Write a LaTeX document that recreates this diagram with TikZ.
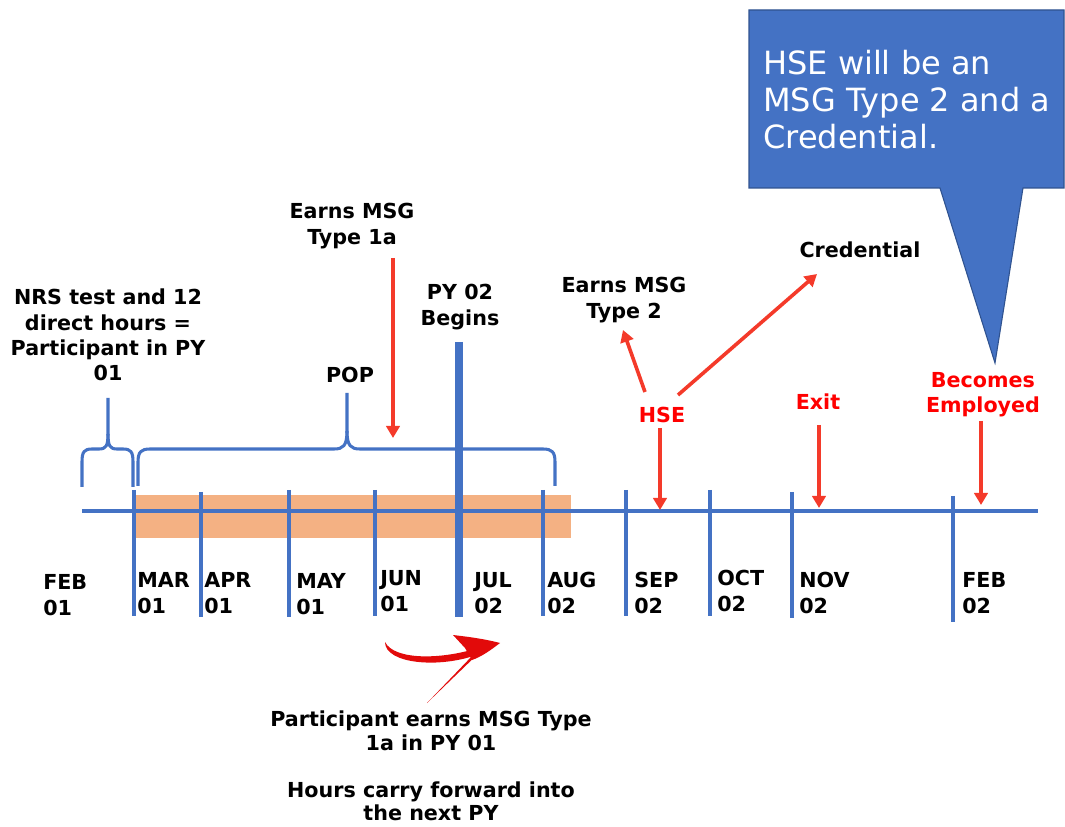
\documentclass[tikz,border=0pt]{standalone}
\usepackage{fontspec}
\setmainfont{DejaVu Sans}
\usetikzlibrary{arrows.meta}
\definecolor{tblue}{HTML}{4472C4}
\definecolor{cborder}{HTML}{2F528F}
\definecolor{orng}{HTML}{F4B183}
\definecolor{rarrow}{HTML}{F43A2A}
\definecolor{rtext}{HTML}{FF0000}
\definecolor{curvered}{HTML}{E20A0A}
\tikzset{
  lbl/.style={font=\bfseries\fontsize{15.5}{19}\selectfont, align=center, inner sep=0pt, text=black},
  rlbl/.style={lbl, text=rtext},
  mlbl/.style={font=\bfseries\fontsize{15.5}{19}\selectfont, align=left, inner sep=0pt, anchor=west},
  tl/.style={draw=tblue, line width=2.3pt},
  tick/.style={draw=tblue, line width=2.3pt},
  brace/.style={draw=tblue, line width=2.3pt, line join=round},
  rarr/.style={draw=rarrow, line width=2.7pt, -{Triangle[width=10pt,length=9pt]}}
}
\begin{document}
\begin{tikzpicture}[x=0.75pt,y=-0.75pt]
\useasboundingbox (0,0) rectangle (1065,827);
% orange band
\fill[orng] (135,495) rectangle (571,538);
% timeline
\coordinate (tlS) at (82,511);
\coordinate (tlE) at (1038,511);
\draw[tl] (tlS) -- (tlE);
% month ticks
\foreach \n/\x/\a/\b in {mar/134/490/616, apr/201/492/617, may/289/490/617, jun/375/490/616, aug/543/490/616, sep/626/490/616, oct/710/490/616, nov/792/492/618, feb/953/496/622}{
  \coordinate (\n T) at (\x,\a);
  \coordinate (\n B) at (\x,\b);
  \draw[tick] (\n T) -- (\n B);
}
% PY 02 line
\coordinate (pyT) at (459,342);
\coordinate (pyB) at (459,617);
\draw[draw=tblue, line width=5.3pt] (pyT) -- (pyB);
% month labels
\node[mlbl] (m1) at (43,595) {FEB\\01};
\node[mlbl] (m2) at (137,593) {MAR\\01};
\node[mlbl] (m3) at (204,593) {APR\\01};
\node[mlbl] (m4) at (296,594) {MAY\\01};
\node[mlbl] (m5) at (380,591) {JUN\\01};
\node[mlbl] (m6) at (474,593) {JUL\\02};
\node[mlbl] (m7) at (547,593) {AUG\\02};
\node[mlbl] (m8) at (634,593) {SEP\\02};
\node[mlbl] (m9) at (717,591) {OCT\\02};
\node[mlbl] (m10) at (799,593) {NOV\\02};
\node[mlbl] (m11) at (962,593) {FEB\\02};
% braces
\draw[brace] (82,487) -- (82,462) .. controls (82,452) and (84,449) .. (92,449) -- (99,449)
  .. controls (106,449) and (108,446) .. (108,434) -- (108,398);
\draw[brace] (108,434) .. controls (108,446) and (110,449) .. (117,449) -- (123,449)
  .. controls (131,449) and (133,452) .. (133,462) -- (133,487);
\draw[brace] (138,486) -- (138,462) .. controls (138,452) and (141,449) .. (150,449) -- (334,449)
  .. controls (343,449) and (347,446) .. (347,431) -- (347,393);
\draw[brace] (347,431) .. controls (347,446) and (351,449) .. (360,449) -- (543,449)
  .. controls (552,449) and (555,452) .. (555,462) -- (555,486);
% labels
\node[lbl] (nrs) at (108,335) {NRS test and 12\\direct hours =\\Participant in PY\\01};
\node[lbl] (pop) at (350,375) {POP};
\node[lbl] (t1a) at (352,226) {Earns MSG\\Type 1a};
\node[lbl] (py) at (460,307) {PY 02\\Begins};
\node[lbl] (t2) at (624,300) {Earns MSG\\Type 2};
\node[lbl] (cred) at (860,250) {Credential};
\node[rlbl] (hse) at (662,414.5) {HSE};
\node[rlbl] (exit) at (818,402) {Exit};
\node[rlbl] (emp) at (983,395) {Becomes\\Employed};
\node[lbl, font=\bfseries\fontsize{15.5}{18}\selectfont] (part) at (431,731) {Participant earns MSG Type\\1a in PY 01};
\node[lbl, font=\bfseries\fontsize{15.5}{17.5}\selectfont] (hours) at (431,801) {Hours carry forward into\\the next PY};
% red arrows
\coordinate (a1s) at (393,258); \coordinate (a1e) at (393,438);
\draw[rarr] (a1s) -- (a1e);
\coordinate (h1s) at (645,392); \coordinate (h1e) at (623,330);
\draw[rarr] (h1s) -- (h1e);
\coordinate (h2s) at (678,395); \coordinate (h2e) at (817,274);
\draw[rarr] (h2s) -- (h2e);
\coordinate (h3s) at (660,428); \coordinate (h3e) at (660,510);
\draw[rarr] (h3s) -- (h3e);
\coordinate (e1s) at (819,425); \coordinate (e1e) at (819,508);
\draw[rarr] (e1s) -- (e1e);
\coordinate (b1s) at (981,421); \coordinate (b1e) at (981,505);
\draw[rarr] (b1s) -- (b1e);
% curved brush arrow
\fill[curvered] (385,642) .. controls (385,664) and (440,669) .. (479,654)
  -- (478,648) .. controls (440,660) and (394,660) .. (385,642) -- cycle;
\fill[curvered] (453,635) .. controls (470,637) and (485,639) .. (500,643)
  .. controls (491,650) and (481,657) .. (472,660) -- (465,648) -- cycle;
\fill[curvered] (481,651) -- (427,703) -- (473,655) -- cycle;
% callout
\filldraw[fill=tblue, draw=cborder, line width=0.8pt] (749,10) -- (1064,10) -- (1064,188) -- (1023,188)
  -- (995,363) -- (940,188) -- (749,188) -- cycle;
\node[font=\fontsize{24}{27.75}\selectfont, text=white, align=left, inner sep=0pt, anchor=west] (call) at (763,100)
  {HSE will be an\\MSG Type 2 and a\\Credential.};
\end{tikzpicture}
\end{document}
